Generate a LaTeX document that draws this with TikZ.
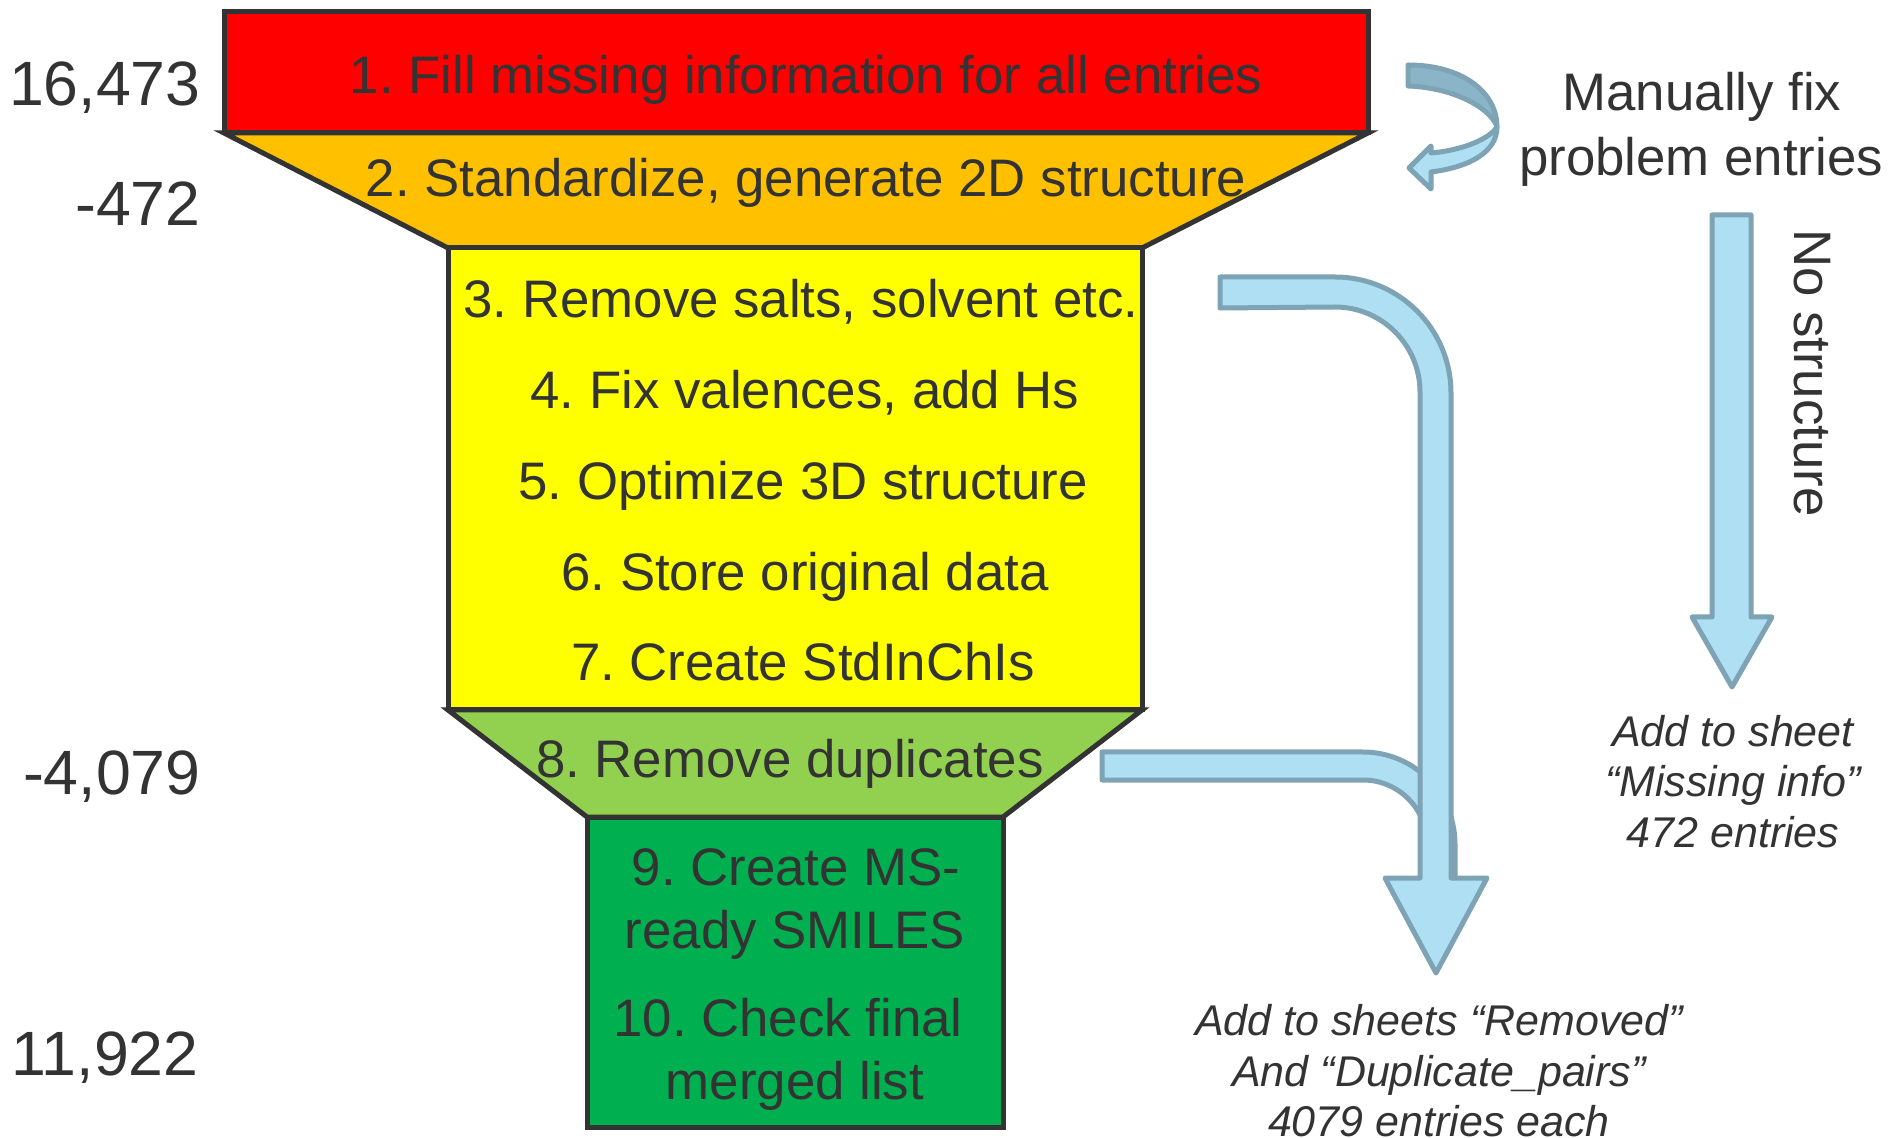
\documentclass[tikz,border=0pt]{standalone}
\usepackage{fontspec}
\setmainfont{Liberation Sans}
\frenchspacing
\definecolor{tc}{HTML}{333333}
\definecolor{fred}{HTML}{FF0000}
\definecolor{forange}{HTML}{FFC000}
\definecolor{fyellow}{HTML}{FFFF00}
\definecolor{flgreen}{HTML}{92D050}
\definecolor{fdgreen}{HTML}{00B050}
\definecolor{afill}{HTML}{AEDFF3}
\definecolor{aline}{HTML}{7EA3B5}
\definecolor{adark}{HTML}{8AB4C8}
\tikzset{
 stage/.style={draw=tc, line width=2.5pt, line join=miter},
 arrowshape/.style={draw=aline, fill=afill, line width=2.5pt, line join=round},
 steptext/.style={text=tc, inner sep=0pt, font=\fontsize{26.4pt}{31pt}\selectfont, text height=18.9pt, text depth=0pt},
 numtext/.style={text=tc, inner sep=0pt, font=\fontsize{31.3pt}{37pt}\selectfont, text height=22.4pt, text depth=0pt, anchor=east},
 sidetext/.style={text=tc, inner sep=0pt, font=\fontsize{26.4pt}{31pt}\selectfont, text height=18.9pt, text depth=0pt},
 notetext/.style={text=tc, inner sep=0pt, font=\fontsize{21.5pt}{26pt}\selectfont\itshape, text height=15.4pt, text depth=0pt},
}
\begin{document}
\begin{tikzpicture}[x=0.5pt,y=-0.5pt]
\useasboundingbox (0,0) rectangle (1891,1138);
% funnel stages
\draw[stage, fill=fred] (224,12) rectangle (1368,133);
\draw[stage, fill=forange] (224,133) -- (1368,133) -- (1142,248) -- (448,248) -- cycle;
\draw[stage, fill=fyellow] (448,248) rectangle (1142,710);
\draw[stage, fill=flgreen] (448,710) -- (1142,710) -- (1003,817) -- (587,817) -- cycle;
\draw[stage, fill=fdgreen] (587,817) rectangle (1003,1127);
% curved U-turn arrow
\draw[arrowshape, fill=adark] (1408,65) .. controls (1462,65) and (1497,92) .. (1497,127)
  .. controls (1493,112) and (1460,88) .. (1408,86) -- cycle;
\draw[arrowshape] (1497,127) .. controls (1497,152) and (1470,167) .. (1431,172)
  -- (1431,189) -- (1409,168) -- (1431,146) -- (1431,153)
  .. controls (1465,150) and (1490,138) .. (1497,127) -- cycle;
% no structure arrow
\draw[arrowshape] (1712,215) -- (1751,215) -- (1751,617) -- (1772,617) -- (1732,687)
  -- (1692,617) -- (1712,617) -- cycle;
% duplicates arrow (behind)
\draw[arrowshape] (1102,752) -- (1363,752) arc[start angle=-90,end angle=0,radius=92]
  -- (1455,878) -- (1427,878) -- (1427,844) arc[start angle=0,end angle=-90,radius=64]
  -- (1102,780) -- cycle;
% main bent arrow
\draw[arrowshape] (1220,277) -- (1335,277) arc[start angle=-90,end angle=0,radius=116]
  -- (1451,878) -- (1487,878) -- (1436,973) -- (1385,878) -- (1420,878)
  -- (1420,392) arc[start angle=0,end angle=-90,radius=85] -- (1220,308) -- cycle;
% left numbers
\node[numtext] (n1) at (201,83) {16,473};
\node[numtext] (n2) at (201,203) {-472};
\node[numtext] (n3) at (201,772) {-4,079};
\node[numtext] (n4) at (199,1053) {11,922};
% step texts
\node[steptext] (s1) at (806,75) {1. Fill missing information for all entries};
\node[steptext] (s2) at (806,178) {2. Standardize, generate 2D structure};
\node[steptext] (s3) at (801,299) {3. Remove salts, solvent etc.};
\node[steptext] (s4) at (805,390) {4. Fix valences, add Hs};
\node[steptext] (s5) at (803,481) {5. Optimize 3D structure};
\node[steptext] (s6) at (805,572) {6. Store original data};
\node[steptext] (s7) at (803,662) {7. Create StdInChIs};
\node[steptext] (s8) at (790,759) {8. Remove duplicates};
\node[steptext] (s9a) at (796,867) {9. Create MS-};
\node[steptext] (s9b) at (795,930) {ready SMILES};
\node[steptext] (s10a) at (788,1018) {10. Check final};
\node[steptext] (s10b) at (795,1081) {merged list};
% side texts
\node[sidetext] (m1) at (1702,92) {Manually fix};
\node[sidetext] (m2) at (1701,157) {problem entries};
\node[sidetext, rotate=-90] (ns) at (1813,373) {No structure};
\node[notetext] (a1) at (1733,731) {Add to sheet};
\node[notetext] (a2) at (1733,781) {“Missing info”};
\node[notetext] (a3) at (1733,832) {472 entries};
\node[notetext] (b1) at (1439,1020) {Add to sheets “Removed”};
\node[notetext] (b2) at (1439,1071) {And “Duplicate\_pairs”};
\node[notetext] (b3) at (1439,1121) {4079 entries each};
\end{tikzpicture}
\end{document}
